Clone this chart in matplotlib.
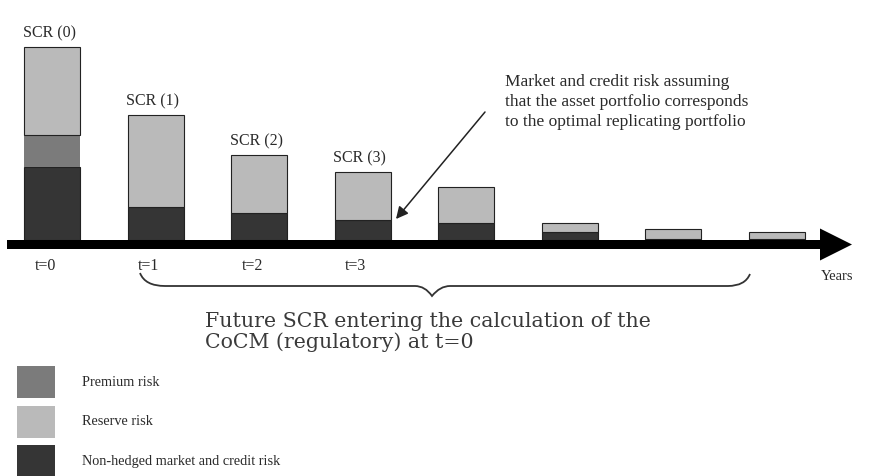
import numpy as np
import matplotlib
matplotlib.use('Agg')
import matplotlib.pyplot as plt
from matplotlib.patches import FancyArrow, Rectangle, PathPatch
from matplotlib.path import Path

plt.rcParams['font.family'] = ['Liberation Serif', 'DejaVu Serif']

# ---- data (bar heights, arbitrary units) ----
scr_labels = ['SCR (0)', 'SCR (1)', 'SCR (2)', 'SCR (3)', '', '', '', '']
time_labels = ['t=0', 't=1', 't=2', 't=3', '', '', '', '']
market = [73, 33, 27, 20, 17, 8, 1, 1]
premium = [32, 0, 0, 0, 0, 0, 0, 0]
reserve = [88, 92, 58, 48, 36, 9, 10, 7]

legend_labels = ['Premium risk', 'Reserve risk', 'Non-hedged market and credit risk']
annot_text = ('Market and credit risk assuming\n'
              'that the asset portfolio corresponds\n'
              'to the optimal replicating portfolio')
brace_text = ('Future SCR entering the calculation of the\n'
              'CoCM (regulatory) at t=0')

c_dark, c_mid, c_light = '#353535', '#7b7b7b', '#bababa'
txt = '#2a2a2a'

W, H = 891, 476
fig = plt.figure(figsize=(W / 100, H / 100), dpi=100)

# main axes: x in bar index, y in pixel-sized units above the baseline
ax = fig.add_axes([0, 0, 1, 1])
ax.set_xlim(-0.5065, 8.106)
ax.set_ylim(-236, 240)
ax.axis('off')

x = np.arange(len(market))
m = np.array(market)
p = np.array(premium)
r = np.array(reserve)
bw = 0.54
ax.bar(x, m, bw, color=c_dark, edgecolor='#222222', lw=0.8)
ax.bar(x, p, bw, bottom=m, color=c_mid, edgecolor='none')
ax.bar(x, r, bw, bottom=m + p, color=c_light, edgecolor='#222222', lw=0.8)

tot = m + p + r
for i, lab in enumerate(scr_labels):
    if lab:
        ax.text(x[i] - 0.03, tot[i] + 6, lab, ha='center', va='bottom',
                fontsize=11.5, color=txt)
for i, lab in enumerate(time_labels):
    if lab:
        ax.text(x[i] - 0.07, -26, lab, ha='center', va='center',
                fontsize=11.5, color=txt)

# overlay axes in pixel coordinates for the diagram furniture
ov = fig.add_axes([0, 0, 1, 1], facecolor='none')
ov.set_xlim(0, W)
ov.set_ylim(H, 0)
ov.axis('off')

# timeline arrow
ov.add_patch(FancyArrow(7, 244.5, 845, 0, width=9, head_width=32,
                        head_length=32, length_includes_head=True,
                        color='black', lw=0))
ov.text(837, 277, 'Years', ha='center', va='center', fontsize=10.5, color=txt)

# annotation arrow + text
ov.annotate('', xy=(396, 219), xytext=(485, 112),
            arrowprops=dict(arrowstyle='-|>', color='#222222', lw=1.1,
                            mutation_scale=18, shrinkA=0, shrinkB=0))
ov.text(505, 102, annot_text, ha='left', va='center', fontsize=12.5,
        color=txt, linespacing=1.3)

# curly brace under t=1 ... last bar
verts = [(140, 273), (145, 286), (165, 286),
         (415, 286), (425, 286), (432, 296),
         (440, 286), (450, 286),
         (728, 286), (745, 286), (750, 274)]
codes = [Path.MOVETO, Path.CURVE3, Path.CURVE3,
         Path.LINETO, Path.CURVE3, Path.CURVE3,
         Path.CURVE3, Path.CURVE3,
         Path.LINETO, Path.CURVE3, Path.CURVE3]
ov.add_patch(PathPatch(Path(verts, codes), fill=False, ec='#333333', lw=1.3))
ov.text(205, 332, brace_text, ha='left', va='center', fontsize=14.8,
        family='DejaVu Serif', color='#3a3a3a', linespacing=1.05)

# legend swatches
for k, (lab, col) in enumerate(zip(legend_labels, [c_mid, c_light, c_dark])):
    y0 = 366 + k * 39.5
    ov.add_patch(Rectangle((17, y0), 38, 32, color=col, lw=0))
    ov.text(82, y0 + 16, lab, ha='left', va='center', fontsize=10.3, color=txt)

fig.savefig('out.png', dpi=100)
